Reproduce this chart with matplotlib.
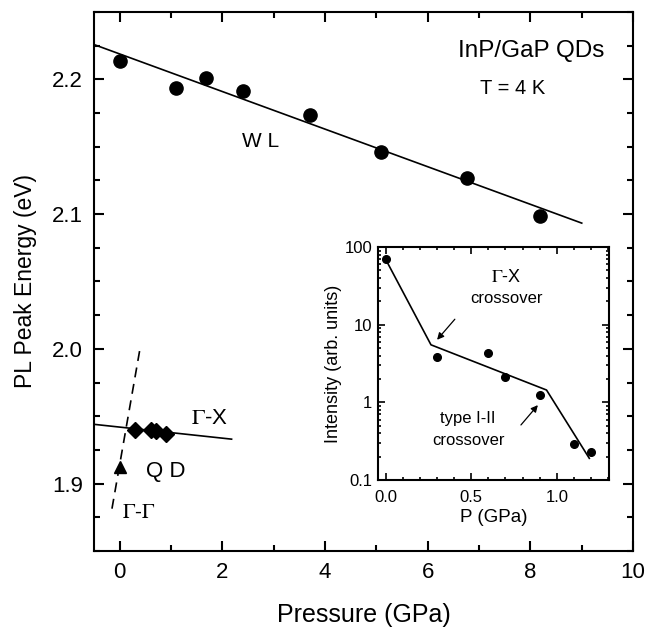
import matplotlib
matplotlib.use('Agg')
import matplotlib.pyplot as plt
from matplotlib.ticker import MultipleLocator, LogLocator, NullFormatter, FixedLocator

plt.rcParams['font.family'] = ['Liberation Sans', 'DejaVu Sans']
plt.rcParams['mathtext.fontset'] = 'stix'

# wetting layer peak energies
wl_p = [0.0, 1.09, 1.69, 2.40, 3.70, 5.09, 6.76, 8.19]
wl_e = [2.2136, 2.1938, 2.201, 2.1913, 2.1733, 2.146, 2.127, 2.0983]
wl_fit_p = [-0.5, 9.0]
wl_fit_e = [2.2258, 2.0933]

# quantum dot, Gamma-X branch
qd_p = [0.29, 0.62, 0.70, 0.91]
qd_e = [1.940, 1.940, 1.939, 1.937]
gx_fit_p = [-0.5, 2.18]
gx_fit_e = [1.944, 1.933]

# quantum dot, Gamma-Gamma point and fit
gg_p = [0.0]
gg_e = [1.9123]
gg_fit_p = [-0.15, 0.40]
gg_fit_e = [1.8814, 2.001]

# inset: PL intensity vs pressure
int_p = [0.0, 0.30, 0.60, 0.70, 0.90, 1.10, 1.20]
int_i = [69.5, 3.8, 4.3, 2.1, 1.24, 0.29, 0.227]
int_fit_p = [0.0, 0.265, 0.94, 1.19]
int_fit_i = [69.5, 5.5, 1.44, 0.19]

fig = plt.figure(figsize=(6.46, 6.28), dpi=100)
ax = fig.add_axes([0.1455, 0.1226, 0.8345, 0.8584])

ax.plot(wl_fit_p, wl_fit_e, color='black', lw=1.2)
ax.plot(wl_p, wl_e, 'o', color='black', ms=9.5)
ax.plot(gx_fit_p, gx_fit_e, color='black', lw=1.2)
ax.plot(qd_p, qd_e, 'D', color='black', ms=8.5)
ax.plot(gg_fit_p, gg_fit_e, color='black', lw=1.2, ls=(0, (6, 4)))
ax.plot(gg_p, gg_e, '^', color='black', ms=8.5)

ax.set_xlim(-0.5, 10)
ax.set_ylim(1.85, 2.25)
ax.xaxis.set_major_locator(FixedLocator([0, 2, 4, 6, 8, 10]))
ax.xaxis.set_minor_locator(MultipleLocator(1))
ax.yaxis.set_major_locator(FixedLocator([1.9, 2.0, 2.1, 2.2]))
ax.yaxis.set_minor_locator(MultipleLocator(0.025))
ax.tick_params(which='both', direction='in', top=True, right=True, width=1.5)
ax.tick_params(which='major', length=7.5, labelsize=16, pad=8)
ax.tick_params(which='minor', length=4)
for s in ax.spines.values():
    s.set_linewidth(1.5)
ax.set_xticklabels(['0', '2', '4', '6', '8', '10'])
ax.set_yticklabels(['1.9', '2.0', '2.1', '2.2'])
ax.set_xlabel('Pressure (GPa)', fontsize=18, labelpad=14)
ax.set_ylabel('PL Peak Energy (eV)', fontsize=16.5, labelpad=11)

ax.text(9.45, 2.2208, 'InP/GaP QDs', fontsize=17.5, ha='right', va='center')
ax.text(7.66, 2.1935, 'T = 4 K', fontsize=14.5, ha='center', va='center')
ax.text(2.75, 2.1538, 'W L', fontsize=15, ha='center', va='center')
ax.text(1.75, 1.9486, r'$\Gamma$-X', fontsize=16, ha='center', va='center')
ax.text(0.9, 1.9089, 'Q D', fontsize=16, ha='center', va='center')
ax.text(0.37, 1.8788, r'$\Gamma$-$\Gamma$', fontsize=15, ha='center', va='center')

# inset
ins = fig.add_axes([0.585, 0.2357, 0.358, 0.371])
ins.plot(int_fit_p, int_fit_i, color='black', lw=1.2)
ins.plot(int_p, int_i, 'o', color='black', ms=5.5)
ins.set_yscale('log')
ins.set_xlim(-0.045, 1.306)
ins.set_ylim(0.1, 100)
ins.xaxis.set_major_locator(FixedLocator([0.0, 0.5, 1.0]))
ins.xaxis.set_minor_locator(MultipleLocator(0.1))
ins.set_xticklabels(['0.0', '0.5', '1.0'])
ins.yaxis.set_major_locator(FixedLocator([0.1, 1, 10, 100]))
ins.yaxis.set_minor_locator(LogLocator(base=10, subs=range(2, 10)))
ins.yaxis.set_minor_formatter(NullFormatter())
ins.set_yticklabels(['0.1', '1', '10', '100'])
ins.tick_params(which='both', direction='in', top=True, right=True, width=1.2)
ins.tick_params(which='major', length=5, labelsize=12, pad=4)
ins.tick_params(axis='x', which='major', pad=7)
ins.tick_params(which='minor', length=2.5)
for s in ins.spines.values():
    s.set_linewidth(1.5)
ins.set_xlabel('P (GPa)', fontsize=13.5, labelpad=3)
ins.set_ylabel('Intensity (arb. units)', fontsize=13, labelpad=2)

ins.text(0.705, 41, r'$\Gamma$-X', fontsize=13, ha='center', va='center')
ins.text(0.705, 22, 'crossover', fontsize=12, ha='center', va='center')
ins.annotate('', xy=(0.29, 6.0), xytext=(0.415, 12.5),
             arrowprops=dict(arrowstyle='-|>', color='black', lw=0.9,
                             mutation_scale=10))
ins.text(0.48, 0.62, 'type I-II', fontsize=12, ha='center', va='center')
ins.text(0.485, 0.32, 'crossover', fontsize=12, ha='center', va='center')
ins.annotate('', xy=(0.90, 0.98), xytext=(0.78, 0.48),
             arrowprops=dict(arrowstyle='-|>', color='black', lw=0.9,
                             mutation_scale=10))

fig.savefig('out.png', dpi=100)
